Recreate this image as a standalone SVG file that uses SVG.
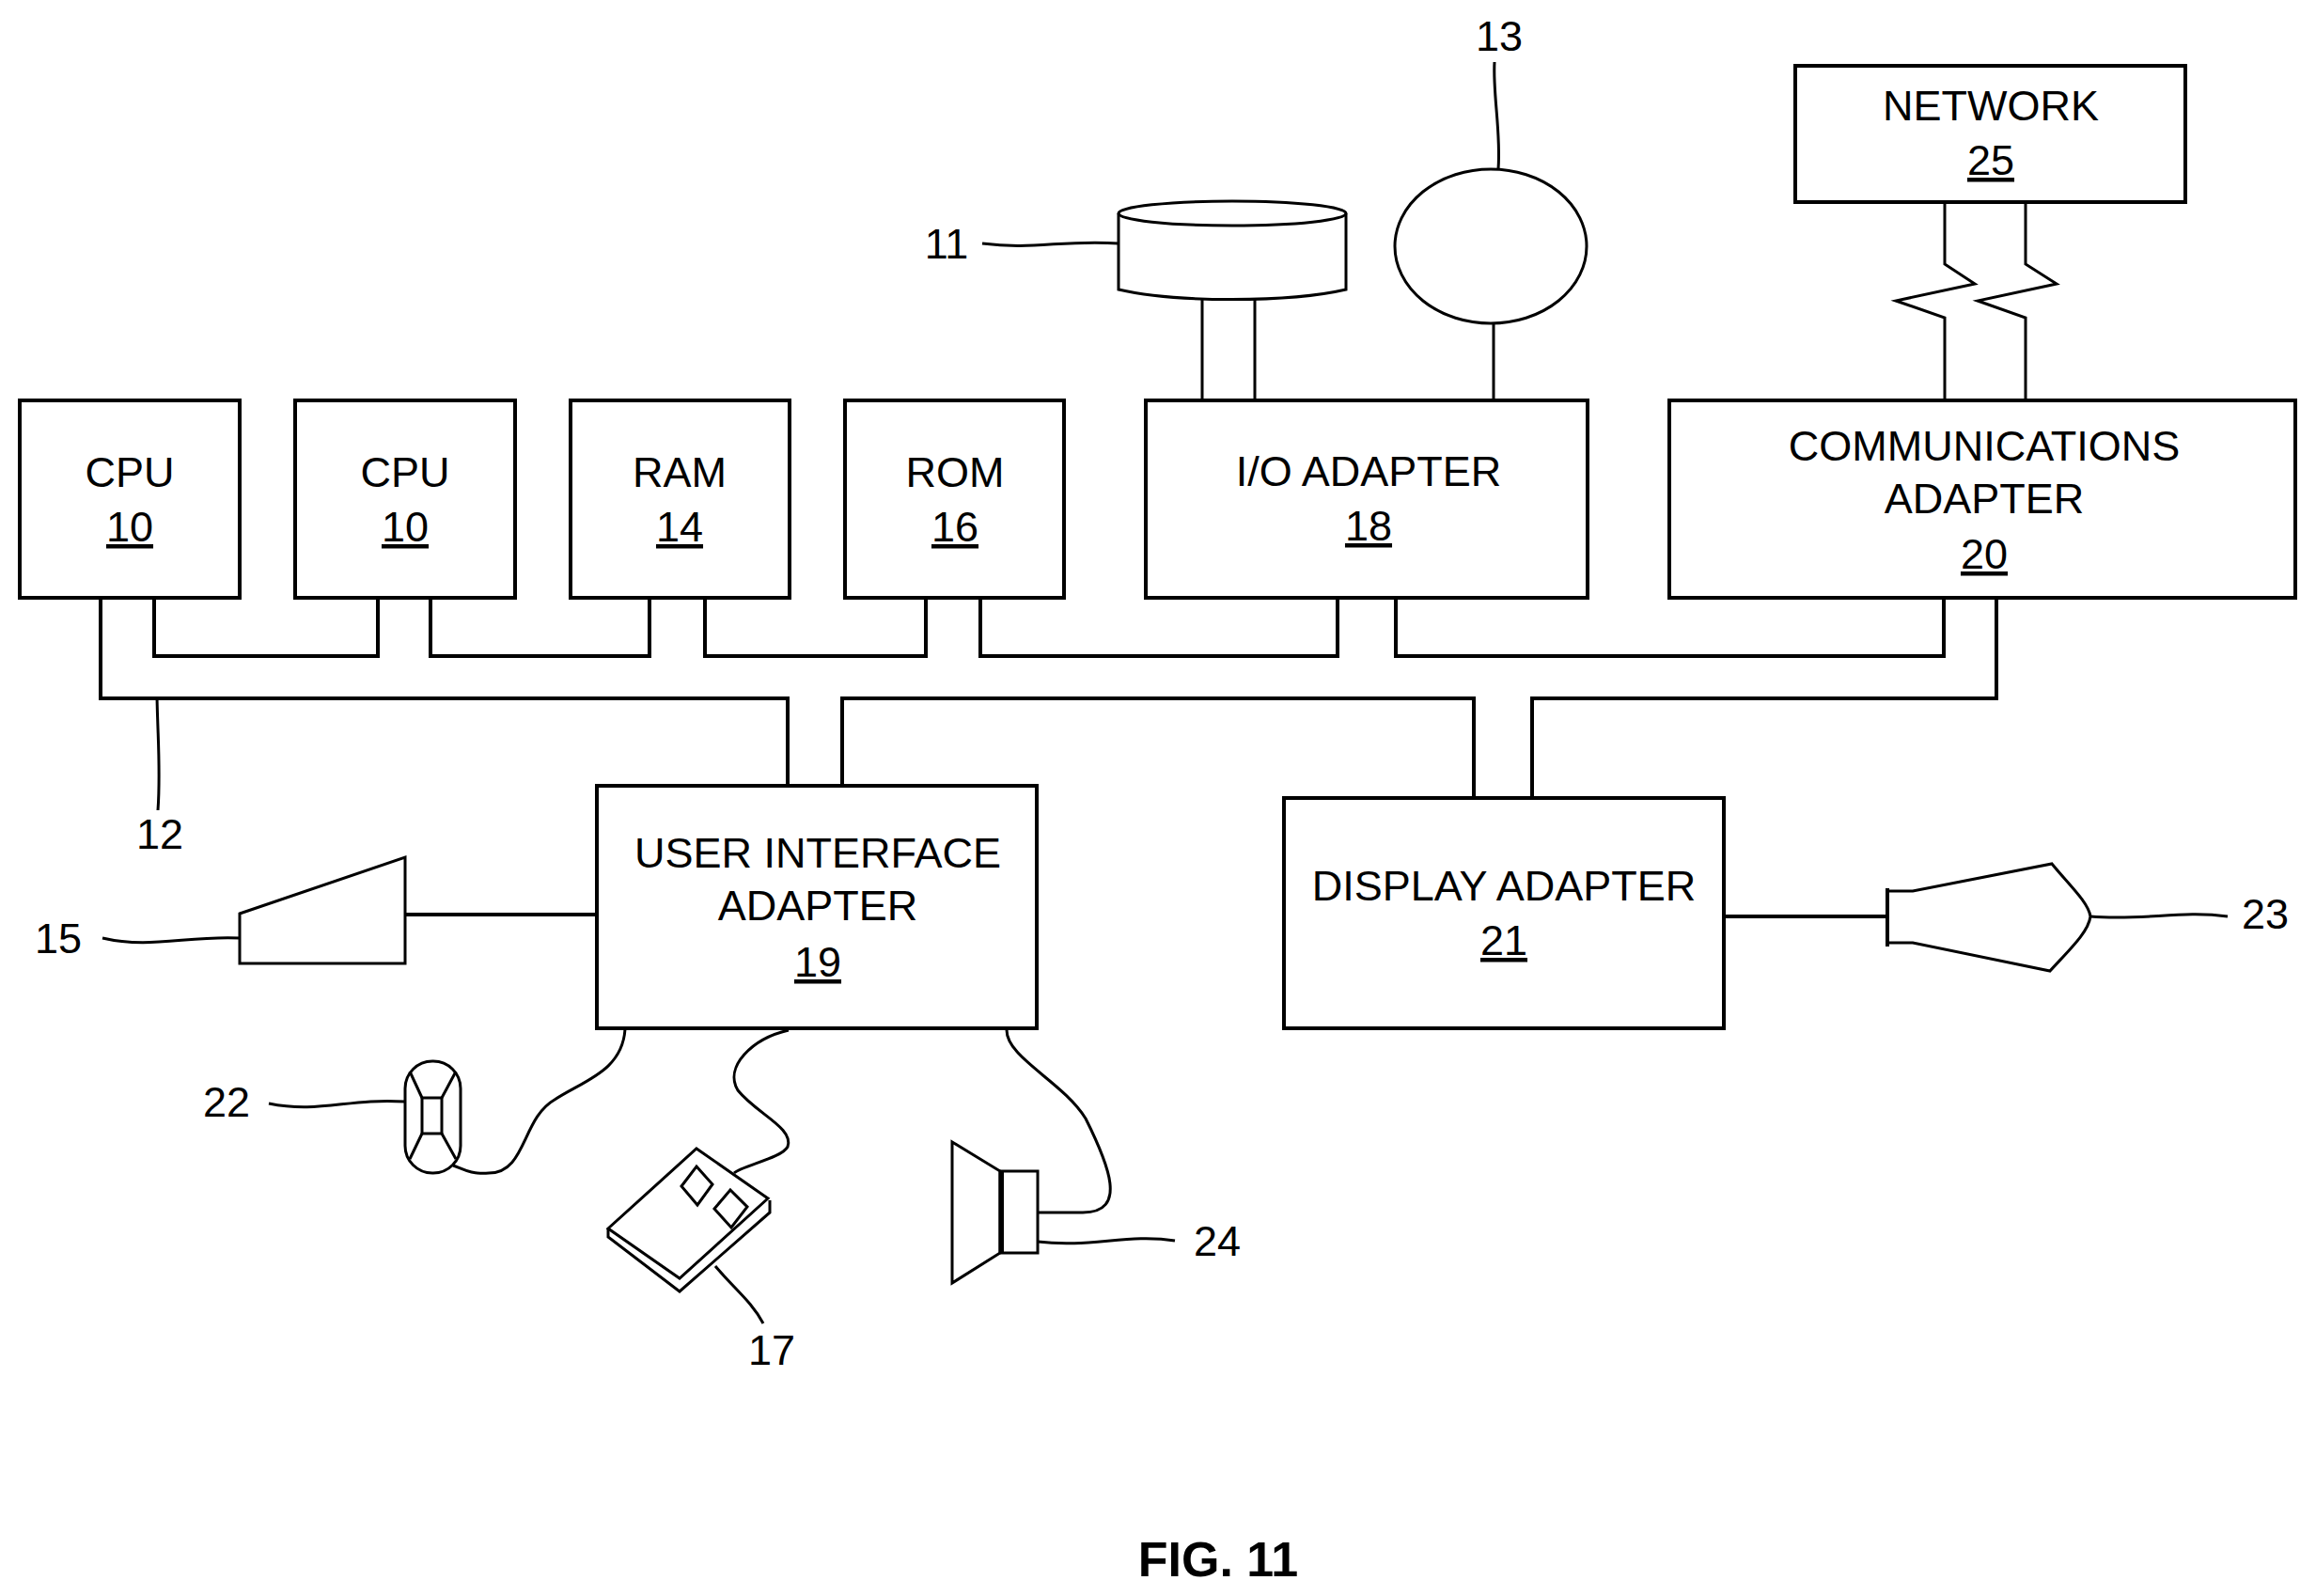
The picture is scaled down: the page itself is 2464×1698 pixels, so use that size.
<svg xmlns="http://www.w3.org/2000/svg" width="2464" height="1698" viewBox="0 0 2464 1698">
<style>
.b{fill:#fff;stroke:#000;stroke-width:4}
.l{fill:none;stroke:#000;stroke-width:4}
.t{fill:none;stroke:#000;stroke-width:3}
text{font-family:"Liberation Sans",Arial,sans-serif;font-size:45px;text-anchor:middle;fill:#000}
.u{text-decoration:underline}
</style>
<rect width="2464" height="1698" fill="#fff"/>
<g id="connectors">
<path class="l" d="M107,637V743H838V835M896,835V743H1568V849M1630,849V743H2124V637"/>
<path class="l" d="M164,637V698H402V637M458,637V698H691V637M750,637V698H985V637M1043,637V698H1423V637M1485,637V698H2068V637"/>
<path class="t" d="M1279,319V426M1335,319V426M1589,345V426"/>
<path class="t" d="M2069,215V281L2101,302L2017,320L2069,338V426M2155,215V281L2188,302L2104,320L2155,338V426"/>
<path class="l" d="M431,973H635M1834,975H2008"/>
<path class="t" d="M665,1095C662,1140 620,1150 590,1170C555,1190 560,1248 520,1248C500,1250 490,1242 482,1240"/>
<path class="t" d="M839,1096C800,1105 770,1135 785,1160C805,1185 845,1200 838,1220C832,1232 790,1240 781,1248"/>
<path class="t" d="M1071,1095C1070,1125 1130,1150 1155,1190C1180,1240 1200,1290 1152,1290H1104"/>
</g>
<g id="leaders">
<path class="t" d="M167,741C168,790 171,820 168,862"/>
<path class="t" d="M1590,66C1588,100 1597,140 1594,180"/>
<path class="t" d="M1045,259C1100,266 1130,255 1190,259"/>
<path class="t" d="M109,998C160,1010 200,995 255,998"/>
<path class="t" d="M286,1174C340,1185 370,1168 431,1172"/>
<path class="t" d="M761,1347C780,1370 800,1385 812,1408"/>
<path class="t" d="M1104,1321C1160,1328 1200,1312 1250,1320"/>
<path class="t" d="M2224,975C2280,980 2320,968 2370,975"/>
</g>
<g id="cpu1"><rect class="b" x="21" y="426" width="234" height="210"/><text x="138" y="518">CPU</text><text class="u" x="138" y="576">10</text></g>
<g id="cpu2"><rect class="b" x="314" y="426" width="234" height="210"/><text x="431" y="518">CPU</text><text class="u" x="431" y="576">10</text></g>
<g id="ram"><rect class="b" x="607" y="426" width="233" height="210"/><text x="723" y="518">RAM</text><text class="u" x="723" y="576">14</text></g>
<g id="rom"><rect class="b" x="899" y="426" width="233" height="210"/><text x="1016" y="518">ROM</text><text class="u" x="1016" y="576">16</text></g>
<g id="io"><rect class="b" x="1219" y="426" width="470" height="210"/><text x="1456" y="517">I/O ADAPTER</text><text class="u" x="1456" y="575">18</text></g>
<g id="comm"><rect class="b" x="1776" y="426" width="666" height="210"/><text x="2111" y="490">COMMUNICATIONS</text><text x="2111" y="546">ADAPTER</text><text class="u" x="2111" y="605">20</text></g>
<g id="network"><rect class="b" x="1910" y="70" width="415" height="145"/><text x="2118" y="128">NETWORK</text><text class="u" x="2118" y="186">25</text></g>
<g id="ui"><rect class="b" x="635" y="836" width="468" height="258"/><text x="870" y="923">USER INTERFACE</text><text x="870" y="979">ADAPTER</text><text class="u" x="870" y="1039">19</text></g>
<g id="display"><rect class="b" x="1366" y="849" width="468" height="245"/><text x="1600" y="958">DISPLAY ADAPTER</text><text class="u" x="1600" y="1016">21</text></g>
<g id="disk11"><path class="t" d="M1190,227V308C1250,322 1372,322 1432,308V227" fill="#fff"/><ellipse class="t" cx="1311" cy="227" rx="121" ry="13" fill="#fff"/><text x="1007" y="275">11</text></g>
<g id="drive13"><ellipse class="t" cx="1586" cy="262" rx="102" ry="82" fill="#fff"/><text x="1595" y="54">13</text></g>
<g id="dev15"><path class="t" d="M255,972L431,912V1025H255Z" fill="#fff"/><text x="62" y="1014">15</text></g>
<g id="mouse22"><rect class="t" x="431" y="1129" width="59" height="119" rx="29" fill="#fff"/><rect class="t" x="449" y="1168" width="21" height="38" fill="#fff"/><path class="t" d="M449,1168L436,1140M470,1168L485,1140M449,1206L436,1233M470,1206L485,1233"/><text x="241" y="1188">22</text></g>
<g id="kbd17"><path class="t" d="M741,1222L817,1275L723,1360L647,1307Z" fill="#fff"/><path class="t" d="M647,1307V1316L723,1374L819,1290V1277"/><path class="t" d="M741,1241L758,1260L742,1282L725,1262ZM777,1266L795,1284L778,1306L760,1286Z"/><text x="821" y="1452">17</text></g>
<g id="spk24"><path class="t" d="M1013,1215L1064,1246V1333L1013,1365Z" fill="#fff"/><rect class="t" x="1064" y="1246" width="40" height="87" fill="#fff"/><path class="l" stroke-width="6" d="M1066,1246V1333"/><text x="1295" y="1336">24</text></g>
<g id="disp23"><path class="t" d="M2008,948H2035L2183,919C2200,940 2222,960 2224,975C2222,992 2200,1012 2181,1033L2035,1003H2008" fill="#fff"/><path class="l" d="M2008,945V1007"/><text x="2410" y="988">23</text></g>
<text x="1296" y="1677" style="font-weight:bold;font-size:52px">FIG. 11</text>
<text x="170" y="903">12</text>
</svg>
